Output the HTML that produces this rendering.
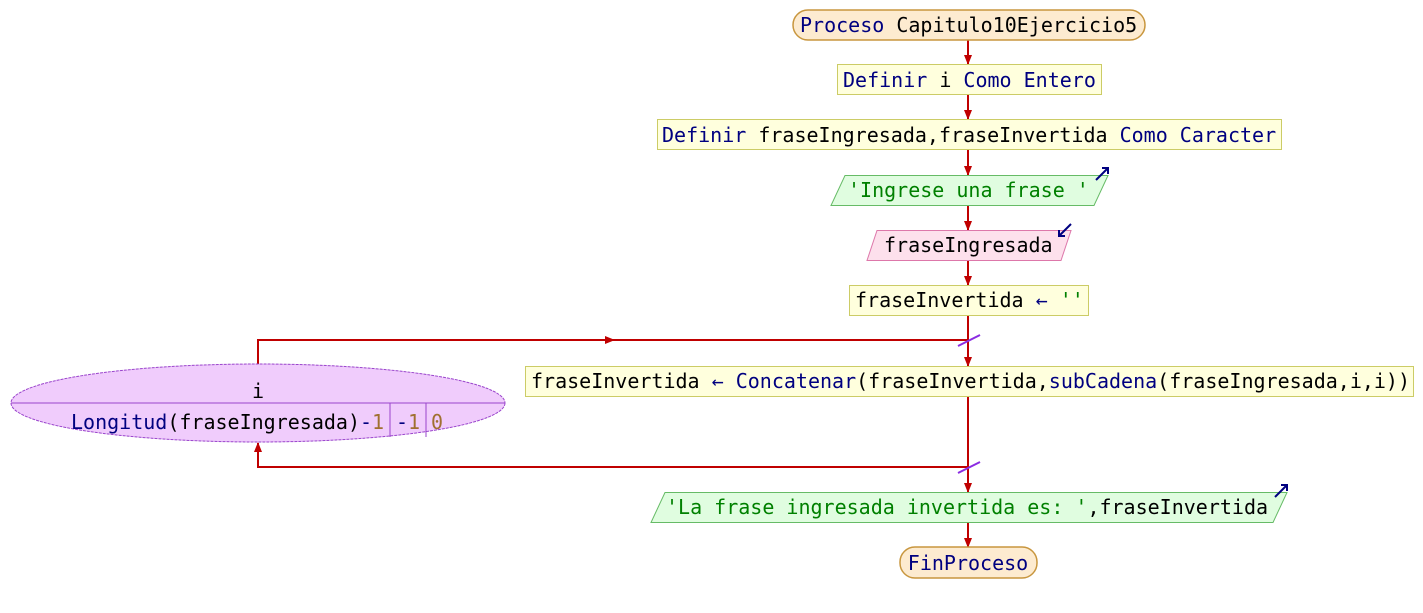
<!DOCTYPE html>
<html><head><meta charset="utf-8"><style>
html,body{margin:0;padding:0;background:#fff;width:1423px;height:613px;overflow:hidden}
text{font-family:"DejaVu Sans Mono","Liberation Mono",monospace;font-size:20px}
.k{fill:#000080}.v{fill:#000}.s{fill:#008000}.n{fill:#a07030}
</style></head><body>
<svg width="1423" height="613" xmlns="http://www.w3.org/2000/svg">
<defs><marker id="a" markerWidth="10" markerHeight="8" refX="9" refY="4" orient="auto" markerUnits="userSpaceOnUse"><path d="M0,0 L10,4 L0,8z" fill="#c00000"/></marker></defs>
<g stroke="#c00000" stroke-width="2" fill="none">
<line x1="968" y1="40" x2="968" y2="64" marker-end="url(#a)"/>
<line x1="968" y1="95" x2="968" y2="119" marker-end="url(#a)"/>
<line x1="968" y1="150" x2="968" y2="175" marker-end="url(#a)"/>
<line x1="968" y1="205" x2="968" y2="230" marker-end="url(#a)"/>
<line x1="968" y1="260" x2="968" y2="285" marker-end="url(#a)"/>
<line x1="968" y1="315" x2="968" y2="366" marker-end="url(#a)"/>
<line x1="968" y1="396" x2="968" y2="492" marker-end="url(#a)"/>
<line x1="968" y1="522" x2="968" y2="547" marker-end="url(#a)"/>
<polyline points="258,364 258,340 968,340"/>
<line x1="258" y1="340" x2="614" y2="340" marker-end="url(#a)"/>
<polyline points="968,467 258,467 258,443" marker-end="url(#a)"/>
</g>
<line x1="958" y1="346" x2="980" y2="335" stroke="#8a2be2" stroke-width="2"/>
<line x1="958" y1="473" x2="980" y2="462" stroke="#8a2be2" stroke-width="2"/>
<!-- start -->
<rect x="793" y="10" width="352" height="30" rx="15" fill="#fdebd0" stroke="#c8963e" stroke-width="1.5"/>
<text x="800" y="32"><tspan class="k">Proceso</tspan><tspan class="v"> Capitulo10Ejercicio5</tspan></text>
<rect x="837.5" y="64.5" width="264" height="30" fill="#ffffdd" stroke="#cccc66"/>
<text x="843" y="87"><tspan class="k">Definir</tspan><tspan class="v"> i </tspan><tspan class="k">Como Entero</tspan></text>
<rect x="657.5" y="119.5" width="624" height="30" fill="#ffffdd" stroke="#cccc66"/>
<text x="662" y="142"><tspan class="k">Definir</tspan><tspan class="v"> fraseIngresada,fraseInvertida </tspan><tspan class="k">Como Caracter</tspan></text>
<polygon points="845,175.5 1108,175.5 1094,205.5 831,205.5" fill="#e0fde0" stroke="#66bb66"/>
<text x="848" y="197" class="s">'Ingrese una frase '</text>
<path d="M1096,180 L1108,168 M1102,168 L1108,168 L1108,174" stroke="#000080" stroke-width="2" fill="none"/>
<polygon points="877,230.5 1071,230.5 1061,260.5 867,260.5" fill="#fde0ec" stroke="#dd77aa"/>
<text x="884" y="252" class="v">fraseIngresada</text>
<path d="M1071,224 L1059,236 M1059,230 L1059,236 L1065,236" stroke="#000080" stroke-width="2" fill="none"/>
<rect x="849.5" y="285.5" width="239" height="30" fill="#ffffdd" stroke="#cccc66"/>
<text x="855" y="307"><tspan class="v">fraseInvertida </tspan><tspan class="k">←</tspan><tspan class="s"> ''</tspan></text>
<rect x="525.5" y="366.5" width="888" height="30" fill="#ffffdd" stroke="#cccc66"/>
<text x="531" y="388"><tspan class="v">fraseInvertida </tspan><tspan class="k">← Concatenar</tspan><tspan class="v">(fraseInvertida,</tspan><tspan class="k">subCadena</tspan><tspan class="v">(fraseIngresada,i,i))</tspan></text>
<ellipse cx="258" cy="403" rx="247" ry="39" fill="#f0ccfc" stroke="#9a44cc" stroke-dasharray="3,1"/>
<line x1="11" y1="403" x2="505" y2="403" stroke="#9a44cc"/>
<line x1="390" y1="403" x2="390" y2="437" stroke="#9a44cc"/>
<line x1="426" y1="403" x2="426" y2="437" stroke="#9a44cc"/>
<text x="258" y="398" class="v" text-anchor="middle">i</text>
<text x="71" y="429"><tspan class="k">Longitud</tspan><tspan class="v">(fraseIngresada)</tspan><tspan class="k">-</tspan><tspan class="n">1</tspan></text>
<text x="396" y="429"><tspan class="k">-</tspan><tspan class="n">1</tspan></text>
<text x="431" y="429" class="n">0</text>
<polygon points="665,492.5 1287,492.5 1273,522.5 651,522.5" fill="#e0fde0" stroke="#66bb66"/>
<text x="666" y="514"><tspan class="s">'La frase ingresada invertida es: '</tspan><tspan class="v">,fraseInvertida</tspan></text>
<path d="M1275,497 L1287,485 M1281,485 L1287,485 L1287,491" stroke="#000080" stroke-width="2" fill="none"/>
<rect x="900" y="547" width="137" height="31" rx="15" fill="#fdebd0" stroke="#c8963e" stroke-width="1.5"/>
<text x="968" y="570" class="k" text-anchor="middle">FinProceso</text>
</svg>
</body></html>
